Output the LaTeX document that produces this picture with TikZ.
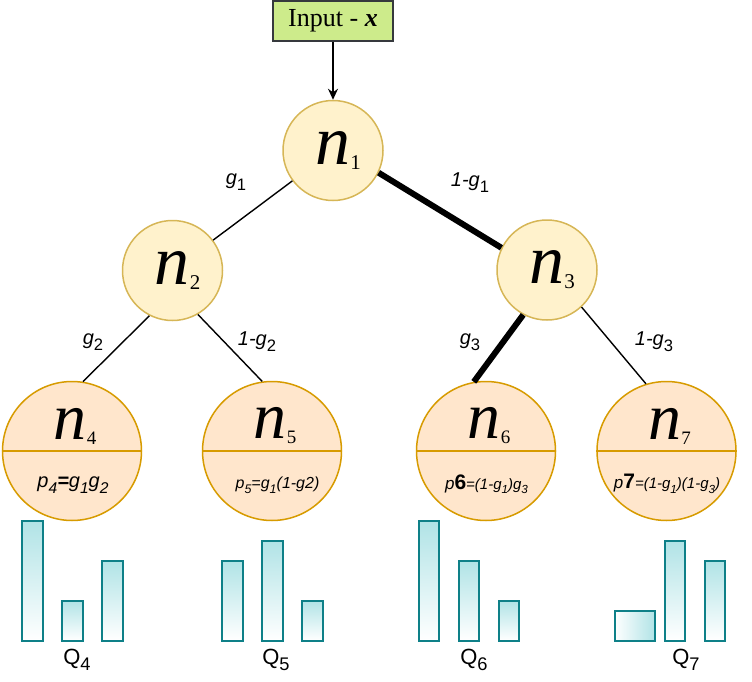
\documentclass[tikz,border=0pt]{standalone}
\usepackage{fontspec}
\setmainfont{Liberation Serif}
\newfontfamily\labelfont{Liberation Sans}
\usetikzlibrary{arrows.meta,positioning}
\definecolor{innerfill}{HTML}{FFF2CC}
\definecolor{innerline}{HTML}{D6B656}
\definecolor{leaffill}{HTML}{FFE6CC}
\definecolor{leafline}{HTML}{D79B00}
\definecolor{inputfill}{HTML}{CDEB8B}
\definecolor{inputline}{HTML}{36393D}
\definecolor{barfill}{HTML}{B0E3E6}
\definecolor{barline}{HTML}{0E8088}
\newcommand{\nname}[3][21]{{\fontsize{#2}{#2}\selectfont\itshape n}\raisebox{-5pt}{\fontsize{#1}{#1}\selectfont #3}}
\newcommand{\gsub}[1]{\raisebox{-0.3em}{\scalebox{0.83}{\upshape #1}}}
\newcommand{\psub}[1]{\raisebox{-0.3em}{\scalebox{0.78}{#1}}}

\begin{document}
\begin{tikzpicture}[x=1pt,y=-1pt,
  inner/.style={circle,draw=innerline,fill=innerfill,line width=1.5pt,minimum size=100pt,inner sep=0pt},
  leaf/.style={circle,draw=leafline,fill=leaffill,line width=1.5pt,minimum size=139pt,inner sep=0pt},
  branch/.style={line width=1.4pt},
  chosen/.style={line width=6pt},
  glabel/.style={font=\labelfont\itshape\fontsize{20}{20}\selectfont,inner sep=0pt},
  plabel/.style={font=\labelfont\itshape,inner sep=0pt},
  qlabel/.style={font=\labelfont\fontsize{22}{22}\selectfont,inner sep=0pt},
  bar/.style={draw=barline,line width=2pt,top color=barfill,bottom color=white},
  sidebar/.style={draw=barline,line width=2pt,left color=white,right color=barfill}]
\useasboundingbox (0,0) rectangle (752,682);
% input and tree nodes
\node[draw=inputline,fill=inputfill,line width=1.3pt,minimum width=120pt,minimum height=40pt,font=\fontsize{26}{26}\selectfont,inner sep=0pt] (input) at (333,21) {Input - \textbf{\textit{x}}};
\node[inner] (n1) at (333,150.5) {\hspace{10pt}\nname{70}{1}};
\node[inner] (n2) at (172.5,270.5) {\hspace{10pt}\nname{70}{2}};
\node[inner] (n3) at (547,270) {\hspace{10pt}\nname{70}{3}};
\foreach \i/\x in {4/72,5/272,6/486,7/666.5}{
  \node[leaf] (n\i) at (\x,451) {};
  \draw[leafline,line width=1.5pt] (n\i.west) -- (n\i.east);
  \node[inner sep=0pt] (n\i name) at ([xshift=3pt,yshift=25pt]n\i.center) {\nname[19]{66}{\i}};
}
% leaf probabilities
\node[plabel,font=\labelfont\itshape\fontsize{20}{20}\selectfont] (p4) at (73,485) {p\psub{4}\textbf{=}g\psub{1}g\psub{2}};
\node[plabel,font=\labelfont\itshape\fontsize{16}{16}\selectfont] (p5) at (277.5,485) {p\psub{5}=g\psub{1}(1-g2)};
\node[plabel,font=\labelfont\itshape\fontsize{15}{15}\selectfont] (p6) at (486.5,484) {{\fontsize{17}{17}\selectfont p}{\upshape\bfseries\fontsize{21}{21}\selectfont 6}=(1-g\psub{1})g\psub{3}};
\node[plabel,font=\labelfont\itshape\fontsize{15}{15}\selectfont] (p7) at (667,484) {{\fontsize{17}{17}\selectfont p}{\upshape\bfseries\fontsize{21}{21}\selectfont 7}=(1-g\psub{1})(1-g\psub{3})};
% branches
\draw[-{Stealth[length=11pt,width=10pt]},line width=1.5pt] (input) -- (n1);
\draw[branch] (n1) -- (n2);
\draw[chosen] (n1.334) -- (n3.154);
\draw[branch] (n2.243) -- (n4.81);
\draw[branch] (n2.300) -- (n5.98);
\draw[chosen] (n3.242) -- (n6.100);
\draw[branch] (n3.313) -- (n7.107);
% branch labels
\node[glabel] (g1) at (236,182) {g\gsub{1}};
\node[glabel] (h1) at (470,183) {1-g\gsub{1}};
\node[glabel] (g2) at (93,342) {g\gsub{2}};
\node[glabel] (h2) at (257,342) {1-g\gsub{2}};
\node[glabel] (g3) at (470,342) {g\gsub{3}};
\node[glabel] (h3) at (654,342) {1-g\gsub{3}};
% leaf distributions
\foreach \x/\h in {22/120,62/40,102/80,222/80,262/100,302/40,418.5/120,458.5/80,498.5/40,664.5/100,704.5/80}
  \draw[bar] (\x,640.5) rectangle ++(20.5,-\h);
\draw[sidebar] (614.5,640.5) rectangle (655,610.5);
\node[qlabel] (q4) at (77,660) {Q\gsub{4}};
\node[qlabel] (q5) at (276,660) {Q\gsub{5}};
\node[qlabel] (q6) at (474,660) {Q\gsub{6}};
\node[qlabel] (q7) at (686,660) {Q\gsub{7}};
\end{tikzpicture}
\end{document}
